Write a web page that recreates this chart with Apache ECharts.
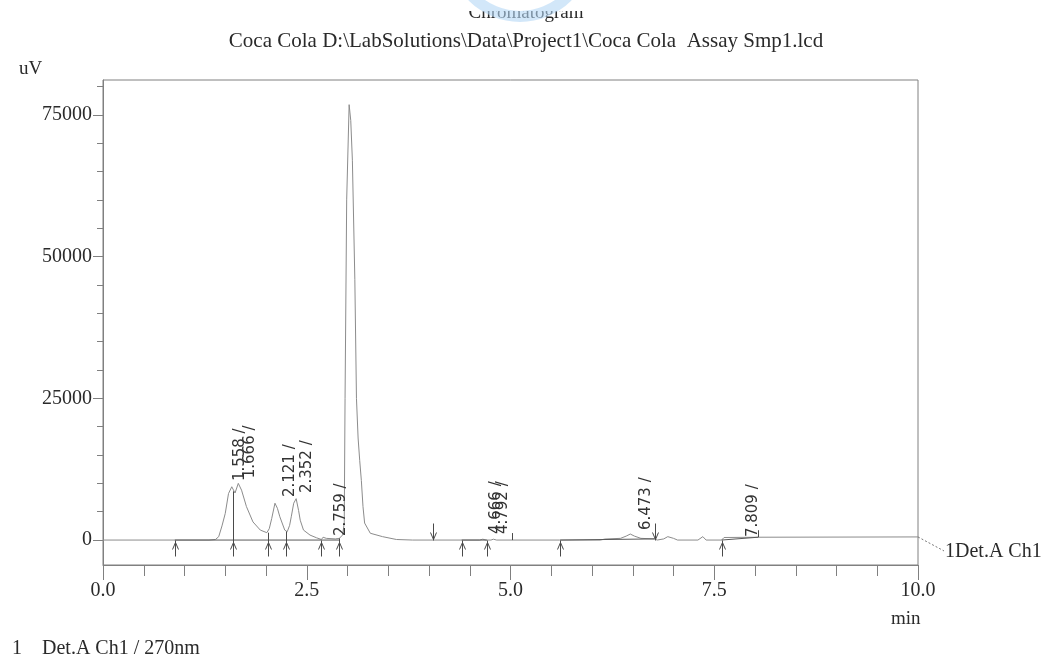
<!DOCTYPE html>
<html>
<head>
<meta charset="utf-8">
<title>Chromatogram</title>
<script src="https://cdn.jsdelivr.net/npm/echarts@6/dist/echarts.min.js"></script>
<style>
  html, body { margin: 0; padding: 0; background: #fff; }
  #main { width: 1045px; height: 659px; }
</style>
</head>
<body>
<div id="main"></div>
<script>
// detector trace: retention time (min) and signal (uV)
const times = [0.00, 0.88, 1.30, 1.38, 1.42, 1.46, 1.50, 1.54, 1.58, 1.62, 1.66, 1.70, 1.76, 1.84, 1.93,
  2.01, 2.04, 2.07, 2.11, 2.14, 2.17, 2.23, 2.26, 2.29, 2.31, 2.34, 2.37, 2.40, 2.42, 2.46, 2.54, 2.62,
  2.68, 2.70, 2.74, 2.85, 2.90, 2.94, 2.96, 2.97, 2.99, 3.02, 3.04, 3.06, 3.09, 3.11, 3.13, 3.15, 3.17,
  3.19, 3.21, 3.28, 3.43, 3.60, 3.80, 4.05, 4.40, 4.62, 4.66, 4.70, 4.76, 4.79, 4.83, 5.60, 6.10, 6.16,
  6.35, 6.42, 6.47, 6.52, 6.60, 6.77, 6.80, 6.88, 6.93, 7.00, 7.05, 7.30, 7.36, 7.40, 7.59, 7.62, 8.04, 10.00];
const signal = [0, 0, 0, 100, 600, 2500, 4700, 8200, 9400, 8300, 10000, 8800, 5900, 3200, 1760,
  1300, 2000, 3800, 6500, 5600, 4100, 1760, 1460, 2600, 4100, 6500, 7300, 5200, 3500, 1760, 880, 400,
  100, 500, 300, 200, 300, 900, 3000, 25000, 60000, 76800, 74000, 67000, 46000, 25000, 18000, 14000, 10500,
  5900, 3000, 1200, 600, 100, 0, 0, 0, 0, 150, 0, 0, 150, 0, 0, 0, 180,
  300, 700, 1060, 700, 300, 200, 0, 200, 600, 300, 0, 0, 600, 0, 0, 450, 500, 550];

// integration baselines drawn under the peaks (start, end)
const baseStarts = [0.88, 4.40, 5.61, 7.59];
const baseEnds = [2.90, 4.71, 6.77, 8.04];
const baseStartValues = [0, 0, 0, 0];
const baseEndValues = [0, 0, 200, 500];

// peak labels and where each one starts
const peakNames = ['1.558', '1.666', '2.121', '2.352', '2.759', '4.666', '4.792', '6.473', '7.809'];
const peakLabelTimes = [1.595, 1.718, 2.209, 2.417, 2.834, 4.736, 4.822, 6.577, 7.890];
const peakLabelValues = [10400, 10900, 7590, 8290, 700, 1060, 1060, 1760, 530];

// integration marks: time, top of the drop line, kind
const markerTimes = [0.88, 1.60, 2.02, 2.25, 2.68, 2.90, 4.05, 4.40, 4.71, 5.02, 5.61, 6.77, 7.59, 8.04];
const markerTops = [0, 8600, 1300, 1500, 0, 300, 0, 0, 0, 0, 0, 0, 0, 500];
const markerKinds = ['up', 'up', 'up', 'up', 'up', 'up', 'down', 'up', 'up', 'tick', 'up', 'down', 'up', 'tick'];

// axis ticks
const yLabelValues = [0, 25000, 50000, 75000];
const yMinorValues = [];
for (let v = 0; v <= 80000; v += 5000) yMinorValues.push(v);

const serif = '"Liberation Serif", "Times New Roman", serif';
const textColor = '#2a2a2a';
const lineGrey = '#808080';

const myChart = echarts.init(document.getElementById('main'));

function renderMarker(params, api) {
  const t = api.value(0);
  const top = api.value(1);
  const kind = markerKinds[params.dataIndex];
  const base = api.coord([t, 0]);
  const x = Math.round(base[0]) + 0.5;
  const y = Math.round(base[1]) + 0.5;
  const style = { stroke: '#4a4a4a', lineWidth: 1, fill: null };
  if (kind === 'up') {
    const yTop = top > 0 ? api.coord([t, top])[1] : y;
    return {
      type: 'group',
      children: [
        { type: 'line', shape: { x1: x, y1: yTop, x2: x, y2: y + 16 }, style: style },
        { type: 'polyline', shape: { points: [[x - 3, y + 9], [x, y + 2], [x + 3, y + 9]] }, style: style }
      ]
    };
  }
  if (kind === 'down') {
    return {
      type: 'group',
      children: [
        { type: 'line', shape: { x1: x, y1: y - 17, x2: x, y2: y }, style: style },
        { type: 'polyline', shape: { points: [[x - 3, y - 8], [x, y - 1], [x + 3, y - 8]] }, style: style }
      ]
    };
  }
  // short end tick
  const yv = api.coord([t, top])[1];
  return { type: 'line', shape: { x1: x, y1: yv - 7, x2: x, y2: yv }, style: style };
}

function renderPeakLabel(params, api) {
  const p = api.coord([api.value(0), api.value(1)]);
  return {
    type: 'text',
    x: p[0],
    y: p[1],
    rotation: Math.PI / 2,
    style: {
      text: peakNames[params.dataIndex] + ' /',
      font: '15px "DejaVu Sans", sans-serif',
      fill: '#333',
      align: 'left',
      verticalAlign: 'top',
      textAlign: 'left',
      textVerticalAlign: 'top'
    }
  };
}

// integration baseline as segments separated by nulls
const baseData = [];
baseStarts.forEach((s, i) => {
  baseData.push([s, baseStartValues[i]]);
  baseData.push([baseEnds[i], baseEndValues[i]]);
  baseData.push([null, null]);
});

const options = {
  animation: false,
  backgroundColor: '#fff',
  grid: {
    left: 103, right: 127, top: 80, bottom: 94,
    show: true, borderColor: lineGrey, borderWidth: 1
  },
  xAxis: [{
    type: 'value',
    min: 0,
    max: 10,
    interval: 2.5,
    position: 'bottom',
    axisLine: { show: true, onZero: false, lineStyle: { color: lineGrey } },
    axisTick: { show: true, length: 15, lineStyle: { color: lineGrey } },
    minorTick: { show: true, splitNumber: 5, length: 11, lineStyle: { color: lineGrey } },
    splitLine: { show: false },
    axisLabel: {
      margin: 16,
      fontFamily: serif, fontSize: 20, color: textColor,
      formatter: v => v.toFixed(1)
    }
  }],
  yAxis: [
    {
      type: 'value',
      min: -4400,
      max: 81150,
      position: 'left',
      axisLine: { show: true, onZero: false, lineStyle: { color: lineGrey } },
      axisTick: { show: true, length: 10, customValues: yLabelValues, lineStyle: { color: lineGrey } },
      splitLine: { show: false },
      axisLabel: {
        customValues: yLabelValues,
        margin: 11,
        fontFamily: serif, fontSize: 20, color: textColor,
        formatter: v => String(v)
      }
    },
    {
      type: 'value',
      min: -4400,
      max: 81150,
      position: 'left',
      axisLine: { show: false, onZero: false },
      axisTick: { show: true, length: 6, customValues: yMinorValues, lineStyle: { color: lineGrey } },
      splitLine: { show: false },
      axisLabel: { show: false }
    }
  ],
  series: [
    {
      name: 'Det.A Ch1',
      type: 'line',
      data: times.map((t, i) => [t, signal[i]]),
      showSymbol: false,
      lineStyle: { color: '#8c8c8c', width: 1 },
      z: 2
    },
    {
      name: 'baseline',
      type: 'line',
      data: baseData,
      showSymbol: false,
      connectNulls: false,
      lineStyle: { color: '#5a5a5a', width: 1 },
      z: 3
    },
    {
      name: 'marks',
      type: 'custom',
      renderItem: renderMarker,
      data: markerTimes.map((t, i) => [t, markerTops[i]]),
      encode: { x: 0, y: 1 },
      z: 4
    },
    {
      name: 'peaks',
      type: 'custom',
      renderItem: renderPeakLabel,
      data: peakLabelTimes.map((t, i) => [t, peakLabelValues[i]]),
      encode: { x: 0, y: 1 },
      z: 5
    }
  ]
};

myChart.setOption(options);

// trace-end label, leader from the last point of the trace
const endPt = myChart.convertToPixel({ gridIndex: 0 }, [times[times.length - 1], signal[signal.length - 1]]);
const txt = (text, size) => ({ text: text, font: size + 'px ' + serif, fill: textColor });
myChart.setOption({
  graphic: [
    // titles; the top of the first line is hidden in the original print
    { type: 'text', x: 526, y: 4, z: 1, style: Object.assign(txt('Chromatogram', 19), { textAlign: 'center' }) },
    { type: 'rect', x: 430, y: 0, z: 2, shape: { width: 190, height: 11 }, style: { fill: '#fff' } },
    { type: 'ring', z: 3, silent: true, shape: { cx: 520, cy: -50, r: 72, r0: 61 }, style: { fill: 'rgba(180, 215, 245, 0.6)' } },
    { type: 'text', x: 526, y: 31, z: 1, style: Object.assign(txt('Coca Cola D:\\LabSolutions\\Data\\Project1\\Coca Cola  Assay Smp1.lcd', 21), { textAlign: 'center' }) },
    {
      type: 'line',
      shape: { x1: endPt[0], y1: endPt[1], x2: endPt[0] + 26, y2: endPt[1] + 14 },
      style: { stroke: '#777', lineWidth: 1, lineDash: [2, 2] }
    },
    { type: 'text', x: endPt[0] + 27, y: endPt[1] + 15, style: Object.assign(txt('1Det.A Ch1', 20), { textVerticalAlign: 'middle' }) },
    { type: 'text', x: 19, y: 60, style: txt('uV', 19) },
    { type: 'text', x: 891, y: 610, style: txt('min', 19) },
    { type: 'text', x: 12, y: 639, style: txt('1    Det.A Ch1 / 270nm', 20) }
  ]
});
</script>
</body>
</html>
